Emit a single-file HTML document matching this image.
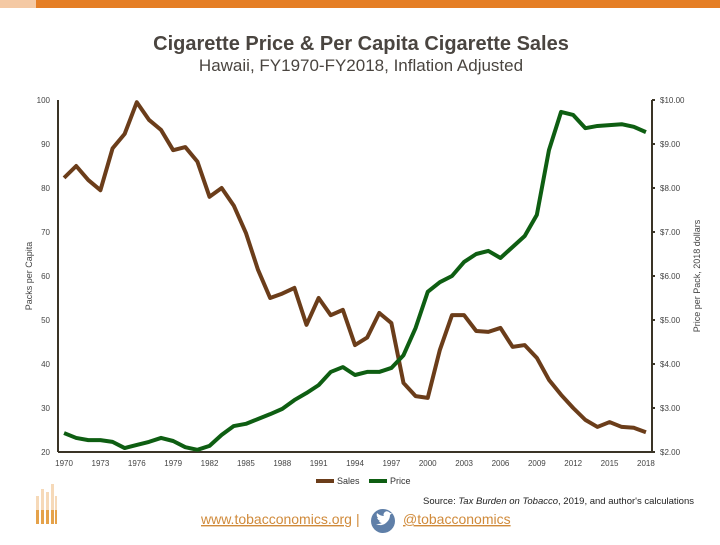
<!DOCTYPE html>
<html><head><meta charset="utf-8"><style>
html,body{margin:0;padding:0;background:#fff;}
body{width:720px;height:540px;overflow:hidden;position:relative;font-family:"Liberation Sans",sans-serif;}
</style></head><body>
<svg id="chart" width="720" height="540" xmlns="http://www.w3.org/2000/svg" font-family="Liberation Sans, sans-serif">
<rect x="0" y="0" width="720" height="8" fill="#e57e25"/>
<rect x="0" y="0" width="36" height="8" fill="#f4c9a4"/>
<text x="361" y="50" text-anchor="middle" font-size="20" font-weight="bold" fill="#4a4540">Cigarette Price &amp; Per Capita Cigarette Sales</text>
<text x="361" y="71" text-anchor="middle" font-size="17" fill="#4a4540">Hawaii, FY1970-FY2018, Inflation Adjusted</text>
<text transform="translate(32,276) rotate(-90)" text-anchor="middle" font-size="9" fill="#444">Packs per Capita</text>
<text transform="translate(700,276) rotate(-90)" text-anchor="middle" font-size="9" fill="#444">Price per Pack, 2018 dollars</text>
<g id="axes"></g>
<g id="series"></g>
<g>
<rect x="316" y="479" width="18" height="4" fill="#6b3d1a"/>
<text x="337" y="484" font-size="9" fill="#333">Sales</text>
<rect x="369" y="479" width="18" height="4" fill="#0e5e12"/>
<text x="390" y="484" font-size="9" fill="#333">Price</text>
</g>
<text x="694" y="504" text-anchor="end" font-size="9.5" fill="#222">Source: <tspan font-style="italic">Tax Burden on Tobacco</tspan>, 2019, and author's calculations</text>
<text x="201" y="524" font-size="14" fill="#d08a3a" text-decoration="underline">www.tobacconomics.org</text>
<text x="356" y="524" font-size="14" fill="#d08a3a">|</text>
<circle cx="383" cy="521" r="12" fill="#5f7fa8"/>
<path d="M376 524 q6 3 11 -2 q3 -3 3 -7 l2 -2 l-2 0 l-1 -1 q-3 -2 -5 1 q-1 2 0 3 q-4 0 -7 -3 q-1 3 1 5 l-1 0 q1 2 3 3 l-1 0 q1 2 3 2 q-2 1 -4 1z" fill="#fff"/>
<text x="403" y="524" font-size="14" fill="#d08a3a" text-decoration="underline">@tobacconomics</text>
<g>
<rect x="36" y="496" width="3" height="28" fill="#f6d9b8"/><rect x="36" y="510" width="3" height="14" fill="#e5a24a"/>
<rect x="41" y="489" width="3" height="35" fill="#f6d9b8"/><rect x="41" y="510" width="3" height="14" fill="#e5a24a"/>
<rect x="46" y="492" width="3" height="32" fill="#f6d9b8"/><rect x="46" y="510" width="3" height="14" fill="#e5a24a"/>
<rect x="51" y="484" width="3" height="40" fill="#f6d9b8"/><rect x="51" y="510" width="3" height="14" fill="#e5a24a"/>
<rect x="55" y="496" width="2" height="28" fill="#f6d9b8"/><rect x="55" y="510" width="2" height="14" fill="#e5a24a"/>
</g>
</svg>
<script>
const years = [];
for (let y = 1970; y <= 2018; y++) years.push(y);
const sales = [82.3,85,81.8,79.5,89,92.3,99.5,95.5,93.2,88.6,89.3,86,78,80,76,69.8,61.4,55,56,57.3,48.9,55,51.1,52.3,44.3,46,51.6,49.3,35.7,32.7,32.3,43.2,51.1,51.1,47.5,47.3,48.2,43.9,44.3,41.4,36.4,33,30,27.3,25.7,26.8,25.7,25.5,24.5];
const price = [2.43,2.32,2.27,2.27,2.23,2.09,2.16,2.23,2.32,2.25,2.11,2.05,2.14,2.39,2.59,2.64,2.75,2.86,2.98,3.18,3.34,3.52,3.82,3.93,3.75,3.82,3.82,3.91,4.2,4.82,5.64,5.86,6.0,6.32,6.5,6.57,6.41,6.66,6.91,7.39,8.86,9.73,9.66,9.36,9.41,9.43,9.45,9.39,9.27];
const leftTicks = [20,30,40,50,60,70,80,90,100];
const rightTicks = ["$2.00","$3.00","$4.00","$5.00","$6.00","$7.00","$8.00","$9.00","$10.00"];
const xTickYears = [1970,1973,1976,1979,1982,1985,1988,1991,1994,1997,2000,2003,2006,2009,2012,2015,2018];

const NS = "http://www.w3.org/2000/svg";
const L = 58, R = 652, T = 100, B = 452;
const band = (R - L) / years.length;
const xs = yr => L + band * (years.indexOf(yr) + 0.5);
const yL = v => B - (v - 20) / 80 * (B - T);
const yR = v => B - (v - 2) / 8 * (B - T);
function mk(tag, attrs, parent) { const e = document.createElementNS(NS, tag); for (const k in attrs) e.setAttribute(k, attrs[k]); parent.appendChild(e); return e; }

const axes = document.getElementById('axes');
const ax1 = mk('line', {x1:L,y1:T,x2:L,y2:B,stroke:'#3a3426','stroke-width':2}, axes);


const ax2 = mk('line', {x1:R,y1:T,x2:R,y2:B,stroke:'#3a3426','stroke-width':2}, axes);


const ax3 = mk('line', {x1:L,y1:B,x2:R,y2:B,stroke:'#3a3426','stroke-width':2}, axes);


leftTicks.forEach(v => {
  const t = mk('text', {x:L-8,y:yL(v)+3,'text-anchor':'end','font-size':8,fill:'#444'}, axes);
  t.textContent = v;
  
  
});
rightTicks.forEach((s, i) => {
  const v = 2 + i;
  const tk = mk('line', {x1:R,y1:yR(v),x2:R+3,y2:yR(v),stroke:'#3a3426','stroke-width':2}, axes);
  
  
  const t = mk('text', {x:R+8,y:yR(v)+3,'font-size':8,fill:'#444'}, axes);
  t.textContent = s;
  
  
});
xTickYears.forEach(yr => {
  const t = mk('text', {x:xs(yr),y:B+14,'text-anchor':'middle','font-size':8,fill:'#444'}, axes);
  t.textContent = yr;
  
  
});
const series = document.getElementById('series');
const sp = mk('polyline', {points: years.map((yr,i)=>xs(yr)+','+yL(sales[i])).join(' '), fill:'none', stroke:'#6b3d1a','stroke-width':4,'stroke-linejoin':'round'}, series);


const pp = mk('polyline', {points: years.map((yr,i)=>xs(yr)+','+yR(price[i])).join(' '), fill:'none', stroke:'#0e5e12','stroke-width':4,'stroke-linejoin':'round'}, series);


</script>
</body></html>
